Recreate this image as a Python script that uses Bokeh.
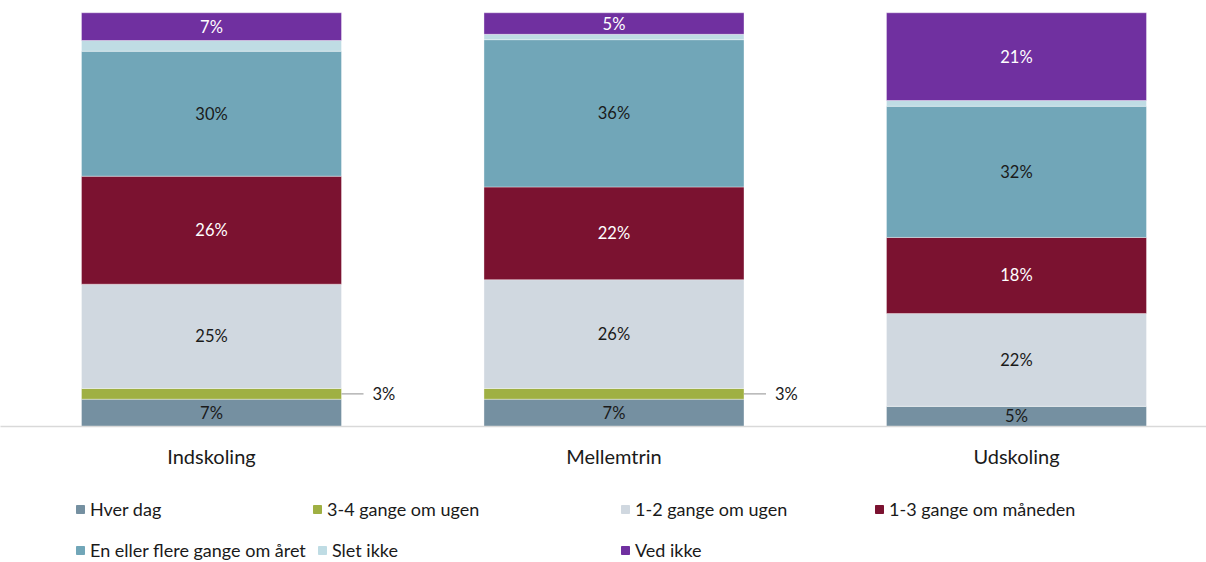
from bokeh.plotting import figure
from bokeh.layouts import column
from bokeh.models import ColumnDataSource, Range1d, LinearAxis, FixedTicker, Legend, LegendItem
from bokeh.embed import file_html
from bokeh.resources import INLINE
from bokeh.core.properties import value

# ---------------- data ----------------
categories = ["Indskoling", "Mellemtrin", "Udskoling"]
series = ["Hver dag", "3-4 gange om ugen", "1-2 gange om ugen", "1-3 gange om måneden",
          "En eller flere gange om året", "Slet ikke", "Ved ikke"]
hver_dag = [6.6, 6.6, 4.9]
gange_3_4_ugen = [2.6, 2.6, 0.0]
gange_1_2_ugen = [25.2, 26.3, 22.4]
gange_1_3_maaneden = [26.1, 22.4, 18.4]
gange_om_aaret = [30.2, 35.6, 31.7]
slet_ikke = [2.6, 1.3, 1.4]
ved_ikke = [6.7, 5.2, 21.2]
values = [hver_dag, gange_3_4_ugen, gange_1_2_ugen, gange_1_3_maaneden,
          gange_om_aaret, slet_ikke, ved_ikke]

colors = ["#7590a1", "#9fb043", "#d0d8e0", "#7b1230", "#71a6b8", "#bfdce4", "#7030a0"]
label_colors = ["#1a1a1a", "#1a1a1a", "#1a1a1a", "#ffffff", "#1a1a1a", "#1a1a1a", "#ffffff"]
outside_series = ["3-4 gange om ugen"]
hidden_series = ["Slet ikke"]

# ---------------- layout constants ----------------
FONT = "Lato"
W = 1206
H1, H2 = 480, 82
BAR_W = 0.646
xs = list(range(len(categories)))

p = figure(width=W, height=H1,
           x_range=Range1d(-0.5242, 2.4721), y_range=Range1d(0, 102.97),
           output_backend="svg", toolbar_location=None,
           x_axis_location=None, y_axis_location=None,
           min_border_left=0, min_border_right=0, min_border_top=0,
           min_border_bottom=H1 - 426)
p.outline_line_color = None
p.grid.grid_line_color = None

data = {"x": xs}
for s, v in zip(series, values):
    data[s] = v
source = ColumnDataSource(data)

renderers = p.vbar_stack(series, x="x", width=BAR_W, color=colors, source=source,
                         line_color="white", line_width=0.6, line_alpha=0.6)

# ---------------- data labels ----------------
lx, ly, lt, lc = [], [], [], []
ox, oy, ot, sx0, sx1 = [], [], [], [], []
for ci, x in enumerate(xs):
    base = 0.0
    for si, s in enumerate(series):
        v = values[si][ci]
        mid = base + v / 2
        base += v
        if v <= 0 or s in hidden_series:
            continue
        txt = f"{v:.0f}%"
        if s in outside_series:
            sx0.append(x + BAR_W / 2)
            sx1.append(x + BAR_W / 2 + 0.0547)
            oy.append(mid)
            ox.append(x + BAR_W / 2 + 0.077)
            ot.append(txt)
        else:
            lx.append(x); ly.append(mid); lt.append(txt); lc.append(label_colors[si])

p.text(x=lx, y=ly, text=lt, text_color=lc, text_align="center", text_baseline="middle",
       text_font=value(FONT), text_font_size="16.5px")
p.segment(x0=sx0, y0=oy, x1=sx1, y1=oy, line_color="#a6a6a6", line_width=1.2)
p.text(x=ox, y=oy, text=ot, text_color="#1a1a1a", text_align="left", text_baseline="middle",
       text_font=value(FONT), text_font_size="16.5px")

# ---------------- category axis ----------------
xaxis = LinearAxis(ticker=FixedTicker(ticks=xs),
                   major_label_overrides={x: c for x, c in zip(xs, categories)})
xaxis.axis_line_color = "#d9d9d9"
xaxis.axis_line_width = 1.5
xaxis.major_tick_line_color = None
xaxis.minor_tick_line_color = None
xaxis.major_tick_out = 0
xaxis.major_tick_in = 0
xaxis.major_label_text_font = FONT
xaxis.major_label_text_font_size = "20px"
xaxis.major_label_text_color = "#1a1a1a"
xaxis.major_label_standoff = 17
p.add_layout(xaxis, "below")

# ---------------- legend (separate strip below the chart) ----------------
p2 = figure(width=W, height=H2, x_range=p.x_range, y_range=Range1d(200, 300),
            output_backend="svg", toolbar_location=None,
            x_axis_location=None, y_axis_location=None,
            min_border_left=0, min_border_right=0, min_border_top=0, min_border_bottom=0)
p2.outline_line_color = None
p2.grid.grid_line_color = None
leg_renderers = p2.vbar_stack(series, x="x", width=BAR_W, color=colors, source=source)

leg_pos = [(75, 42), (312, 42), (620, 42), (874, 42),
           (75, 1), (317, 1), (620, 1)]
for r, s, pos in zip(leg_renderers, series, leg_pos):
    leg = Legend(items=[LegendItem(label=s, renderers=[r])], location=pos,
                 orientation="vertical", glyph_width=10, glyph_height=10,
                 label_standoff=5, padding=0, margin=0, spacing=0,
                 label_height=22, border_line_color=None, background_fill_alpha=0,
                 label_text_font=FONT, label_text_font_size="18px",
                 label_text_color="#1a1a1a")
    p2.add_layout(leg)

layout = column(p, p2, spacing=0)
open("out.html", "w").write(file_html(layout, INLINE))
